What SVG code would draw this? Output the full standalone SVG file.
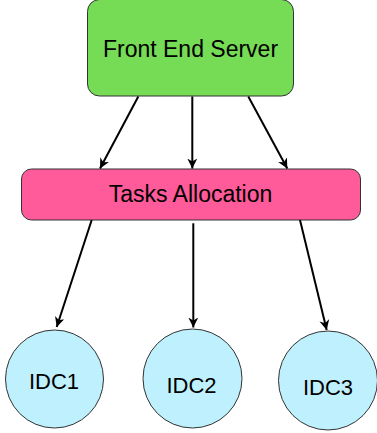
<svg xmlns="http://www.w3.org/2000/svg" width="377" height="433" viewBox="0 0 377 433">
<style>
.node{stroke:#333;stroke-width:1}
.lbl{font-family:"Liberation Sans",Arial,sans-serif;fill:#000;text-anchor:middle}
.edge{stroke:#000;stroke-width:2;fill:none}
</style>
<defs>
<marker id="arr" markerUnits="userSpaceOnUse" markerWidth="12" markerHeight="10" refX="10" refY="5" orient="auto">
<path d="M0,0 L10,5 L0,10 L3,5 z" fill="#000"/>
</marker>
</defs>
<rect width="377" height="433" fill="#fff"/>
<g id="front-end-server">
<rect class="node" x="87.5" y="-0.5" width="206" height="96.5" rx="12" fill="#76db55"/>
<text class="lbl" x="190.5" y="57" font-size="23">Front End Server</text>
</g>
<g id="tasks-allocation">
<rect class="node" x="21.5" y="169" width="339" height="51" rx="10" fill="#ff5a99"/>
<text class="lbl" x="190.5" y="202" font-size="23">Tasks Allocation</text>
</g>
<g id="idc1">
<circle class="node" cx="54.5" cy="379" r="49" fill="#bff0fd"/>
<text class="lbl" x="54" y="389" font-size="22">IDC1</text>
</g>
<g id="idc2">
<circle class="node" cx="192.5" cy="378.5" r="49.5" fill="#bff0fd"/>
<text class="lbl" x="191.5" y="393" font-size="22">IDC2</text>
</g>
<g id="idc3">
<circle class="node" cx="328" cy="380.5" r="49.5" fill="#bff0fd"/>
<text class="lbl" x="328" y="395" font-size="22">IDC3</text>
</g>
<g id="connectors">
<line class="edge" x1="138.3" y1="96.5" x2="100" y2="168.5" marker-end="url(#arr)"/>
<line class="edge" x1="192.3" y1="96.5" x2="192.3" y2="168.5" marker-end="url(#arr)"/>
<line class="edge" x1="248.3" y1="96.5" x2="287.3" y2="168.5" marker-end="url(#arr)"/>
<line class="edge" x1="91.7" y1="220" x2="56.7" y2="327" marker-end="url(#arr)"/>
<line class="edge" x1="193.3" y1="223.3" x2="193.3" y2="327.5" marker-end="url(#arr)"/>
<line class="edge" x1="300" y1="220" x2="326.7" y2="330" marker-end="url(#arr)"/>
</g>
</svg>
